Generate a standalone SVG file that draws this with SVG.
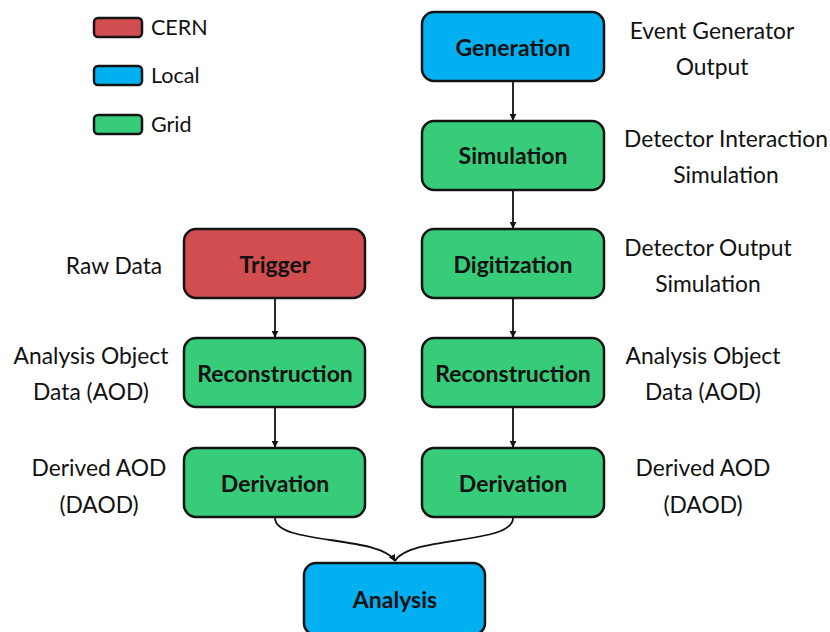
<svg xmlns="http://www.w3.org/2000/svg" width="830" height="632" viewBox="0 0 830 632">
<style>
.n{stroke:#141414;stroke-width:2.5}
.cern{fill:#D24D4F}.local{fill:#00B0F0}.grid{fill:#36CC7A}
.t{font-family:Lato,"Open Sans","Liberation Sans",sans-serif;font-size:22.8px;fill:#111;text-anchor:middle}
.b{font-family:Lato,"Open Sans","Liberation Sans",sans-serif;font-size:23px;font-weight:bold;fill:#111;text-anchor:middle}
.lg{font-family:Lato,"Open Sans","Liberation Sans",sans-serif;font-size:21.5px;fill:#111}
.c{stroke:#111;stroke-width:1.8;fill:none}
</style>
<defs>
<marker id="ah" viewBox="0 0 10 10" refX="9" refY="5" markerWidth="7" markerHeight="7" markerUnits="userSpaceOnUse" orient="auto">
<path d="M0,0 L10,5 L0,10 z" fill="#111"/>
</marker>
</defs>
<g id="legend">
<rect class="n cern" x="94" y="18" width="48" height="19" rx="4"/>
<text class="lg" x="151" y="35">CERN</text>
<rect class="n local" x="94" y="66" width="48" height="19" rx="4"/>
<text class="lg" x="151" y="83">Local</text>
<rect class="n grid" x="94" y="115" width="48" height="19" rx="4"/>
<text class="lg" x="151" y="132">Grid</text>
</g>
<g id="connectors">
<line class="c" x1="513" y1="82" x2="513" y2="120" marker-end="url(#ah)"/>
<line class="c" x1="513" y1="191" x2="513" y2="228" marker-end="url(#ah)"/>
<line class="c" x1="513" y1="299" x2="513" y2="337" marker-end="url(#ah)"/>
<line class="c" x1="513" y1="408" x2="513" y2="447" marker-end="url(#ah)"/>
<line class="c" x1="275" y1="299" x2="275" y2="337" marker-end="url(#ah)"/>
<line class="c" x1="275" y1="408" x2="275" y2="447" marker-end="url(#ah)"/>
<path class="c" d="M275,518 C275,545 380,535 395,561" marker-end="url(#ah)"/>
<path class="c" d="M513,518 C513,545 410,535 395,561"/>
</g>
<g id="generation"><rect class="n local" x="422" y="12" width="182" height="69" rx="12"/><text class="b" x="513" y="56">Generation</text></g>
<g id="simulation"><rect class="n grid" x="422" y="121" width="182" height="69" rx="12"/><text class="b" x="513" y="164">Simulation</text></g>
<g id="digitization"><rect class="n grid" x="422" y="229" width="182" height="69" rx="12"/><text class="b" x="513" y="273">Digitization</text></g>
<g id="reco-right"><rect class="n grid" x="422" y="338" width="182" height="69" rx="12"/><text class="b" x="513" y="382">Reconstruction</text></g>
<g id="deriv-right"><rect class="n grid" x="422" y="448" width="182" height="69" rx="12"/><text class="b" x="513" y="492">Derivation</text></g>
<g id="trigger"><rect class="n cern" x="184" y="229" width="181" height="69" rx="12"/><text class="b" x="275" y="273">Trigger</text></g>
<g id="reco-left"><rect class="n grid" x="184" y="338" width="181" height="69" rx="12"/><text class="b" x="275" y="382">Reconstruction</text></g>
<g id="deriv-left"><rect class="n grid" x="184" y="448" width="181" height="69" rx="12"/><text class="b" x="275" y="492">Derivation</text></g>
<g id="analysis"><rect class="n local" x="304" y="563" width="181" height="72" rx="12"/><text class="b" x="395" y="608">Analysis</text></g>
<g id="labels">
<text class="t" x="712" y="39">Event Generator</text>
<text class="t" x="712" y="75">Output</text>
<text class="t" x="726" y="147">Detector Interaction</text>
<text class="t" x="726" y="183">Simulation</text>
<text class="t" x="708" y="256">Detector Output</text>
<text class="t" x="708" y="292">Simulation</text>
<text class="t" x="703" y="364">Analysis Object</text>
<text class="t" x="703" y="400">Data (AOD)</text>
<text class="t" x="703" y="476">Derived AOD</text>
<text class="t" x="703" y="513">(DAOD)</text>
<text class="t" x="114" y="274">Raw Data</text>
<text class="t" x="91" y="364">Analysis Object</text>
<text class="t" x="91" y="400">Data (AOD)</text>
<text class="t" x="99" y="476">Derived AOD</text>
<text class="t" x="99" y="513">(DAOD)</text>
</g>
</svg>
